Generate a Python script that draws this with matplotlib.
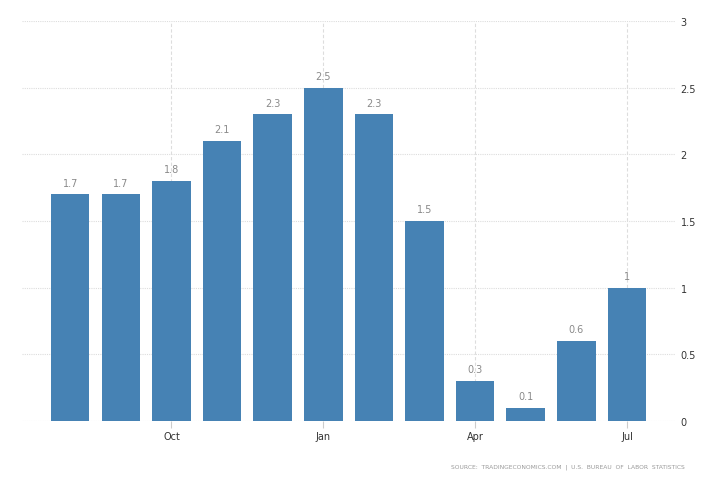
import numpy as np
import matplotlib.pyplot as plt

# ── Data ──────────────────────────────────────────────────────────────────────
months = ['Aug', 'Sep', 'Oct', 'Nov', 'Dec', 'Jan', 'Feb', 'Mar', 'Apr', 'May', 'Jun', 'Jul']
values = [1.7, 1.7, 1.8, 2.1, 2.3, 2.5, 2.3, 1.5, 0.3, 0.1, 0.6, 1.0]
shown_ticks = ['Oct', 'Jan', 'Apr', 'Jul']
y_ticks = [0, 0.5, 1, 1.5, 2, 2.5, 3]
y_labels = ['0', '0.5', '1', '1.5', '2', '2.5', '3']

BAR = '#4682b4'
GRID = '#dddddd'

fig = plt.figure(figsize=(7.28, 4.85), dpi=100)
# plot area: x 22..675 px, y 22..422 px
ax = fig.add_axes([22 / 728, 1 - 422 / 485, 653 / 728, 400 / 485])

x = np.arange(len(months))
ax.bar(x, values, width=0.76, color=BAR, zorder=3)

for xi, v in zip(x, values):
    ax.text(xi, v + 0.05, f'{v:g}', ha='center', va='bottom',
            fontsize=7, color='#8a8a8a', zorder=4)

ax.set_xlim(-0.953, 11.95)
ax.set_ylim(0, 3)

tick_pos = [months.index(m) for m in shown_ticks]
ax.set_xticks(tick_pos)
ax.set_xticklabels(shown_ticks, fontsize=7, color='#333333')
ax.tick_params(axis='x', length=5, color='#cccccc', pad=2)

ax.yaxis.tick_right()
ax.set_yticks(y_ticks)
ax.set_yticklabels(y_labels, fontsize=7, color='#333333')
ax.tick_params(axis='y', length=0, pad=4)

ax.grid(axis='y', color=GRID, linestyle=(0, (1, 1)), linewidth=0.8, zorder=0)
ax.grid(axis='x', color=GRID, linestyle=(0, (3, 2)), linewidth=0.8, zorder=0)

for s in ax.spines.values():
    s.set_visible(False)

fig.text(685 / 728, 1 - 467 / 485,
         'SOURCE:  TRADINGECONOMICS.COM  |  U.S.  BUREAU  OF  LABOR  STATISTICS',
         ha='right', va='center', fontsize=4.3, color='#999999')

fig.savefig('out.png', dpi=100)
